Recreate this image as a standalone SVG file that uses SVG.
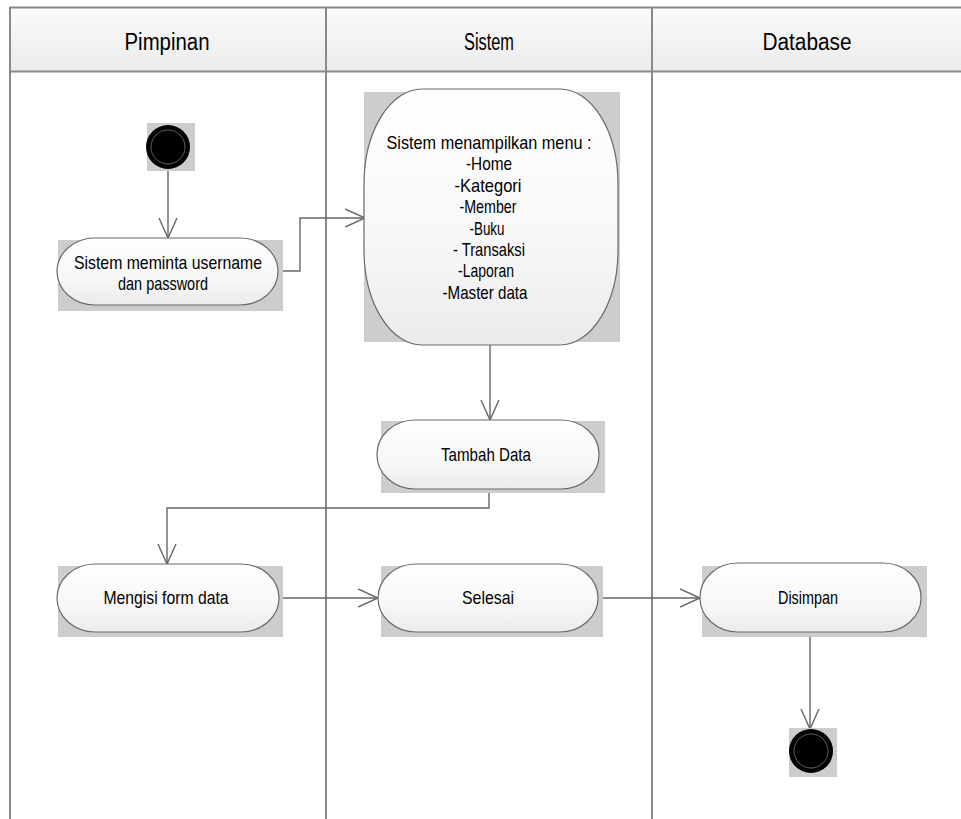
<svg xmlns="http://www.w3.org/2000/svg" width="961" height="819" viewBox="0 0 961 819">
<style>
.lane{stroke:#8a8a8a;stroke-width:2;fill:none}
.hdr{font-family:"Liberation Sans",Arial,sans-serif;font-size:23px;fill:#000;text-anchor:middle}
.txt{font-family:"Liberation Sans",Arial,sans-serif;font-size:19px;fill:#000;text-anchor:middle}
.shadow{fill:#cdcdcd}
.pill{fill:url(#nodeFill);stroke:#6a6a6a;stroke-width:1.2}
.conn{stroke:#666;stroke-width:1.4;fill:none;marker-end:url(#open)}
</style>
<defs>
<linearGradient id="hdrFill" x1="0" y1="0" x2="0" y2="1">
<stop offset="0" stop-color="#fbfbfb"/>
<stop offset="1" stop-color="#ebebeb"/>
</linearGradient>
<linearGradient id="nodeFill" x1="0" y1="0" x2="0" y2="1">
<stop offset="0" stop-color="#ffffff"/>
<stop offset="0.6" stop-color="#f7f7f7"/>
<stop offset="1" stop-color="#ebebeb"/>
</linearGradient>
<marker id="open" viewBox="0 0 20 20" refX="20" refY="10" markerWidth="20" markerHeight="20" markerUnits="userSpaceOnUse" orient="auto">
<path d="M0,1 L20,10 L0,19" fill="none" stroke="#666" stroke-width="1.4"/>
</marker>
</defs>
<rect width="961" height="819" fill="#fff"/>
<g id="lanes">
<rect x="10" y="7.5" width="951" height="64" fill="url(#hdrFill)"/>
<line class="lane" x1="9" y1="7.5" x2="961" y2="7.5"/>
<line class="lane" x1="9" y1="71.5" x2="961" y2="71.5"/>
<line class="lane" x1="10" y1="7" x2="10" y2="819"/>
<line class="lane" x1="326" y1="7" x2="326" y2="819"/>
<line class="lane" x1="652" y1="7" x2="652" y2="819"/>
<text class="hdr" x="167" y="50" textLength="85" lengthAdjust="spacingAndGlyphs">Pimpinan</text>
<text class="hdr" x="489" y="50" textLength="50" lengthAdjust="spacingAndGlyphs">Sistem</text>
<text class="hdr" x="807" y="50" textLength="89" lengthAdjust="spacingAndGlyphs">Database</text>
</g>
<g id="connectors">
<path class="conn" d="M168,171 V238"/>
<path class="conn" d="M278,271 H300 V218 H365"/>
<path class="conn" d="M490,345 V420"/>
<path class="conn" d="M489,490 V508 H167 V564"/>
<path class="conn" d="M279,598 H378"/>
<path class="conn" d="M598,598 H700"/>
<path class="conn" d="M810,632 V729"/>
</g>
<g id="start">
<rect class="shadow" x="147" y="123" width="48" height="48"/>
<circle cx="168" cy="147" r="22" fill="#000"/>
<circle cx="168" cy="147" r="17" fill="none" stroke="#777" stroke-width="0.8"/>
</g>
<g id="node1">
<rect class="shadow" x="58" y="240" width="225" height="71"/>
<rect class="pill" x="57" y="238" width="221" height="67" rx="38" ry="33.5"/>
<text class="txt" x="168" y="269" textLength="188" lengthAdjust="spacingAndGlyphs">Sistem meminta username</text>
<text class="txt" x="163" y="290" textLength="90" lengthAdjust="spacingAndGlyphs">dan password</text>
</g>
<g id="node2">
<rect class="shadow" x="364" y="92" width="256" height="250"/>
<rect class="pill" x="364" y="89" width="254" height="256" rx="58" ry="95"/>
<text class="txt" x="489" y="149" textLength="205" lengthAdjust="spacingAndGlyphs">Sistem menampilkan menu  :</text>
<text class="txt" x="489" y="170" textLength="46" lengthAdjust="spacingAndGlyphs">-Home</text>
<text class="txt" x="488" y="192" textLength="67" lengthAdjust="spacingAndGlyphs">-Kategori</text>
<text class="txt" x="488" y="213" textLength="57" lengthAdjust="spacingAndGlyphs">-Member</text>
<text class="txt" x="487" y="235" textLength="35" lengthAdjust="spacingAndGlyphs">-Buku</text>
<text class="txt" x="489" y="256" textLength="72" lengthAdjust="spacingAndGlyphs">- Transaksi</text>
<text class="txt" x="486" y="277" textLength="56" lengthAdjust="spacingAndGlyphs">-Laporan</text>
<text class="txt" x="485" y="299" textLength="85" lengthAdjust="spacingAndGlyphs">-Master data</text>
</g>
<g id="tambah">
<rect class="shadow" x="381" y="421" width="224" height="72"/>
<rect class="pill" x="377" y="420" width="222" height="69" rx="38" ry="34"/>
<text class="txt" x="486" y="461" textLength="90" lengthAdjust="spacingAndGlyphs">Tambah Data</text>
</g>
<g id="mengisi">
<rect class="shadow" x="58" y="566" width="225" height="71"/>
<rect class="pill" x="57" y="564" width="222" height="68" rx="38" ry="34"/>
<text class="txt" x="166" y="604" textLength="125" lengthAdjust="spacingAndGlyphs">Mengisi form data</text>
</g>
<g id="selesai">
<rect class="shadow" x="381" y="566" width="222" height="71"/>
<rect class="pill" x="378" y="564" width="220" height="68" rx="38" ry="34"/>
<text class="txt" x="488" y="604" textLength="52" lengthAdjust="spacingAndGlyphs">Selesai</text>
</g>
<g id="disimpan">
<rect class="shadow" x="702" y="566" width="225" height="71"/>
<rect class="pill" x="700" y="563" width="221" height="69" rx="38" ry="34"/>
<text class="txt" x="808" y="604" textLength="60" lengthAdjust="spacingAndGlyphs">Disimpan</text>
</g>
<g id="end">
<rect class="shadow" x="789" y="728" width="48" height="49"/>
<circle cx="811" cy="751" r="22" fill="#000"/>
<circle cx="811" cy="751" r="17" fill="none" stroke="#777" stroke-width="0.8"/>
</g>
</svg>
